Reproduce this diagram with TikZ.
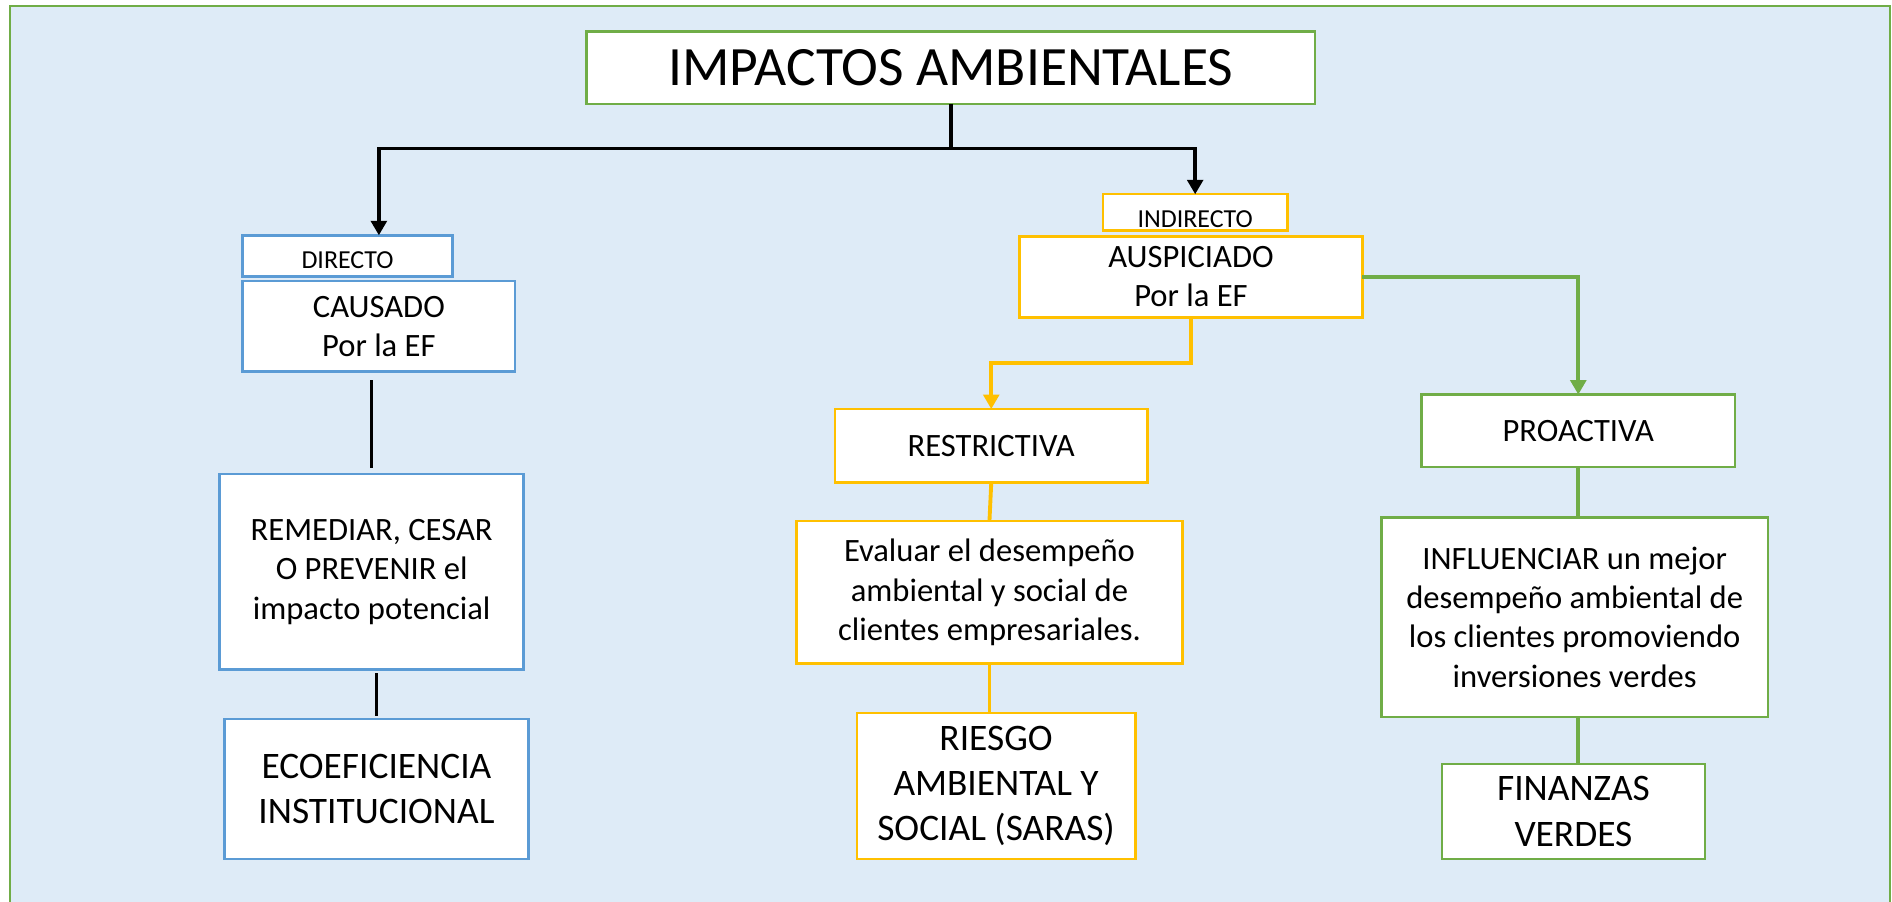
\documentclass[tikz,border=0pt]{standalone}
\usepackage{fontspec}
\setmainfont{Carlito}
\usetikzlibrary{arrows.meta,calc}
\definecolor{bgblue}{HTML}{DEEBF7}
\definecolor{grn}{HTML}{70AD47}
\definecolor{blu}{HTML}{5B9BD5}
\definecolor{ylw}{HTML}{FFC000}
\begin{document}
\begin{tikzpicture}[x=1pt,y=1pt,
  box/.style={draw, fill=white, line width=2pt, inner sep=0pt, outer sep=0pt},
  gbox/.style={box, draw=grn},
  bbox/.style={box, draw=blu},
  ybox/.style={box, draw=ylw},
  txt/.style={align=center, inner sep=0pt, font=\fontsize{27}{32.5}\selectfont},
  bigtxt/.style={txt, font=\fontsize{31}{37.5}\selectfont},
  smalltxt/.style={txt, font=\fontsize{21.5}{25}\selectfont},
  titletxt/.style={txt, font=\fontsize{46}{55}\selectfont},
  tip/.style={-{Triangle[length=12pt,width=13pt]}},
  blk/.style={draw=black, line width=3pt},
  yl/.style={draw=ylw, line width=3.2pt},
  gr/.style={draw=grn, line width=3.2pt}
]
\useasboundingbox (0,0) rectangle (1568,-747);
\fill[white] (0,0) rectangle (1568,-747);
\draw[fill=bgblue, draw=grn, line width=1.6pt] (8,-5) rectangle (1566.5,-760);

% boxes
\node[gbox, minimum width=604, minimum height=60] (title) at (788,-56) {};
\node[bbox, minimum width=174, minimum height=34] (directo) at (288,-212) {};
\node[bbox, minimum width=226, minimum height=75] (causado) at (314,-270.5) {};
\node[bbox, minimum width=252, minimum height=162] (remediar) at (308,-474) {};
\node[bbox, minimum width=252, minimum height=116] (eco) at (312,-654) {};
\node[ybox, minimum width=153, minimum height=30] (indirecto) at (990.5,-176) {};
\node[ybox, minimum width=284, minimum height=67] (aus) at (987,-229.5) {};
\node[ybox, minimum width=259, minimum height=61] (restr) at (821.5,-369.5) {};
\node[ybox, minimum width=320, minimum height=118] (eval) at (820,-491) {};
\node[ybox, minimum width=231, minimum height=121] (riesgo) at (825.5,-651.5) {};
\node[gbox, minimum width=260, minimum height=60] (proa) at (1308,-357) {};
\node[gbox, minimum width=320, minimum height=165] (influ) at (1305,-511.5) {};
\node[gbox, minimum width=218, minimum height=79] (fin) at (1304,-672.5) {};

% texts
\node[titletxt] (ttitle) at (title) {IMPACTOS AMBIENTALES};
\node[smalltxt, yshift=-3.5] (tdirecto) at (directo) {DIRECTO};
\node[txt] (tcausado) at (causado) {CAUSADO\\Por la EF};
\node[txt] (tremediar) at (remediar) {REMEDIAR, CESAR\\O PREVENIR el\\impacto potencial};
\node[bigtxt] (teco) at (eco) {ECOEFICIENCIA\\INSTITUCIONAL};
\node[smalltxt, yshift=-5.5] (tindirecto) at (indirecto) {INDIRECTO};
\node[txt] (taus) at (aus) {AUSPICIADO\\Por la EF};
\node[txt] (trestr) at (restr) {RESTRICTIVA};
\node[txt] (teval) at (eval) {Evaluar el desempeño\\ambiental y social de\\clientes empresariales.};
\node[bigtxt] (triesgo) at (riesgo) {RIESGO\\AMBIENTAL Y\\SOCIAL (SARAS)};
\node[txt] (tproa) at (proa) {PROACTIVA};
\node[txt] (tinflu) at (influ) {INFLUENCIAR un mejor\\desempeño ambiental de\\los clientes promoviendo\\inversiones verdes};
\node[bigtxt] (tfin) at (fin) {FINANZAS\\VERDES};

% connectors
\draw[blk, tip] (title.south) -- ++(0,-37) -| (causado.north |- directo.north);
\draw[blk, tip] (title.south) -- ++(0,-37) -| (indirecto.north);
\draw[blk] ([yshift=-7]causado.south -| remediar.north) -- ([yshift=5]remediar.north);
\draw[blk] ([yshift=-3]remediar.south -| eco.north) -- ([yshift=3]eco.north);

\draw[yl, tip] (aus.south) -- ++(0,-38) -| (restr.north);
\draw[yl] (restr.south) -- (eval.north);
\draw[yl] (eval.south) -- (eval.south |- riesgo.north);

\draw[gr, tip] (aus.east) -| (proa.north);
\draw[gr] (proa.south) -- (proa.south |- influ.north);
\draw[gr] (influ.south -| proa.south) -- (fin.north -| proa.south);
\end{tikzpicture}
\end{document}
